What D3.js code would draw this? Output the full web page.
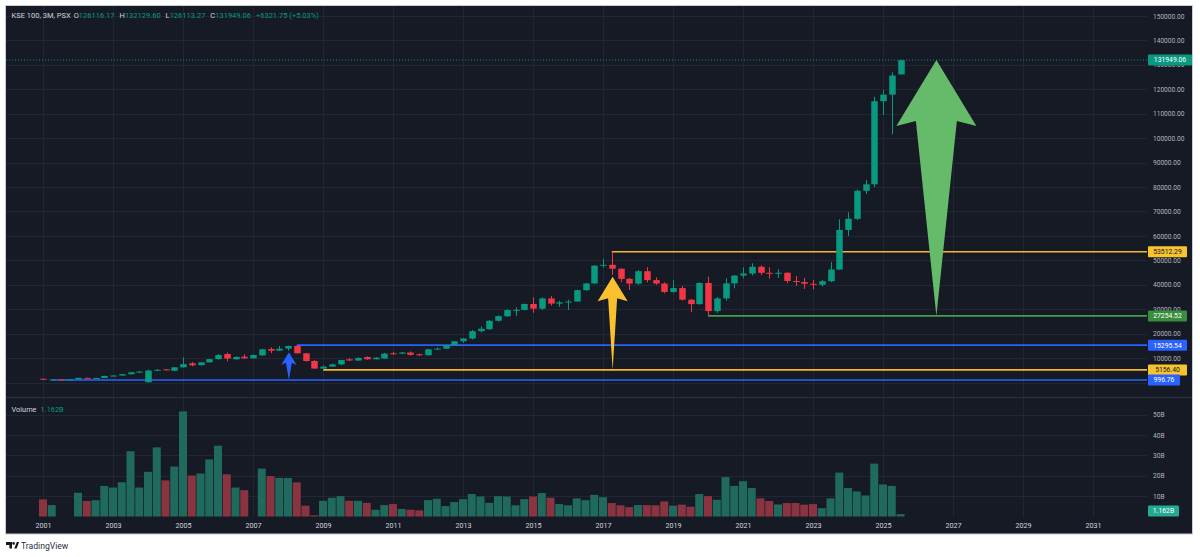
<!DOCTYPE html>
<html>
<head>
<meta charset="utf-8">
<style>
  body { margin: 0; background: #ffffff; }
  svg text { font-family: Roboto, "Noto Sans", sans-serif; }
</style>
</head>
<body>
<script src="https://cdn.jsdelivr.net/npm/d3@7"></script>
<script>
// quarterly bars, 2001 Q1 .. 2025 Q3
var opens = [
  1520, 1120, 1250, 1050,   1273, 1900, 1600, 1850,   2700, 2850, 3400, 4150,
  100, 4900, 5380, 4800,    6218, 7850, 7100, 8250,   9557, 11660, 9500, 10570,
  9900, 11100, 13700, 13030, 13900, 14950, 11950, 8800, 5700, 6500, 7400, 9500,
  9000, 10440, 9500, 9800,  11940, 11800, 12280, 11560, 11150, 13590, 13850, 15230,
  16900, 18000, 21000, 21800, 25260, 27100, 29650, 29700, 32130, 30230, 34400, 32290,
  32820, 33140, 37780, 40540, 47810, 48160, 46570, 42410, 40470, 45560, 41910, 40500,
  37070, 38650, 33900, 32080, 40740, 29230, 34420, 40570, 43760, 44590, 47360, 44900,
  44600, 44930, 41540, 41130, 40420, 40000, 41450, 46230, 62450, 67000, 78450, 81110,
  115130, 117810, 126116.17
];
var highs = [
  1600, 1380, 1300, 1400,   1950, 1950, 1900, 2750,   3000, 3500, 4300, 4700,
  5300, 5500, 5500, 6300,   10303, 8400, 8400, 9700,  11600, 12274, 10700, 11500,
  11500, 13800, 14400, 14900, 15100, 15295.54, 12100, 9200, 7000, 7800, 9300, 10000,
  10300, 10700, 10400, 12100, 12500, 12500, 12700, 11800, 13800, 14300, 15500, 17000,
  18200, 21500, 23000, 25600, 27500, 30000, 30780, 32300, 34870, 34800, 35400, 33500,
  33900, 38000, 40800, 48000, 50700, 53512.29, 46700, 42800, 46000, 47150, 43000, 41000,
  42030, 39500, 34200, 41000, 43300, 35000, 42650, 44000, 47150, 48790, 48000, 47150,
  46330, 45000, 43590, 42800, 41950, 42000, 49320, 66800, 69660, 79000, 82880, 116990,
  119700, 126970, 132129.60
];
var lows = [
  1250, 996.76, 1000, 1030, 1230, 1500, 1550, 1800,   2500, 2800, 3300, 3900,
  0, 4700, 4900, 4700,      6100, 6650, 7000, 8100,   9400, 8700, 9300, 9600,
  9800, 10900, 12000, 12900, 13000, 11800, 8600, 5650, 5156.40, 6400, 7100, 8900,
  8800, 9300, 9400, 9700,   11300, 11700, 11000, 10800, 11100, 13300, 13700, 15000,
  16200, 17600, 20500, 21500, 24900, 26900, 27220, 29500, 28570, 29700, 31500, 31000,
  29670, 33000, 37500, 40300, 47000, 44000, 41000, 37860, 40000, 41000, 40000, 36500,
  36700, 33500, 28765, 31800, 27254.52, 28500, 33500, 38550, 42650, 43800, 44000, 42490,
  42770, 40700, 39500, 38300, 38150, 39300, 41000, 46000, 60000, 66500, 77150, 80000,
  109500, 101600, 126113.27
];
var closes = [
  1300, 1250, 1020, 1273,   1900, 1600, 1850, 2700,   2850, 3400, 4150, 4472,
  4900, 5180, 5050, 6218,   7500, 7030, 8250, 9557,   11250, 9800, 10440, 9900,
  11250, 13570, 13030, 13850, 14950, 11950, 8800, 5700, 6500, 7400, 9200, 9000,
  10030, 9500, 10170, 11800, 11600, 12280, 11300, 11150, 13590, 13850, 15230, 16900,
  18040, 21000, 22000, 25260, 27160, 29650, 29730, 32130, 30230, 34400, 32290, 32820,
  33140, 37780, 40540, 47810, 48160, 46570, 42410, 40470, 45560, 41910, 40500, 37070,
  38650, 33900, 32080, 40740, 29230, 34420, 40570, 43760, 44590, 47360, 44900, 44600,
  44930, 41540, 41130, 40420, 40000, 41450, 46230, 62450, 67000, 78450, 81110, 115130,
  117810, 125630, 131949.06
];
// volume in billions (null = no volume printed)
var volumes = [
  8.4, 5.6, null, null,  11.6, 7.6, 8.0, 15.0,  14.2, 16.8, 32.0, 14.2,
  21.9, 33.9, 17.7, 24.5, 51.5, 20.1, 21.1, 28.0, 34.7, 20.7, 14.2, 12.9,
  null, 23.5, 19.8, 18.9, 18.9, 16.7, 5.3, 0.6,  7.7, 9.2, 10.0, 7.7,
  7.7, 6.7, 3.3, 5.6,    6.1, 3.7, 3.3, 3.0,    8.0, 8.7, 5.1, 7.1,
  8.5, 11.0, 9.8, 6.7,   10.0, 9.8, 5.5, 8.5,   9.8, 11.5, 9.2, 6.1,
  5.5, 8.9, 8.0, 10.6,   9.5, 6.6, 5.5, 4.6,    5.6, 5.6, 5.5, 7.4,
  5.3, 5.8, 4.8, 11.0,   10.0, 8.2, 19.3, 15.0, 17.3, 14.0, 8.9, 7.6,
  5.9, 6.6, 6.6, 5.8,    6.1, 4.1, 8.9, 21.5,   14.0, 12.3, 10.3, 25.9,
  15.7, 15.0, 1.162
];
var yearLabels = [2001, 2003, 2005, 2007, 2009, 2011, 2013, 2015, 2017, 2019, 2021, 2023, 2025, 2027, 2029, 2031];
var priceTicks = [10000, 20000, 30000, 40000, 50000, 60000, 70000, 80000, 90000, 100000, 110000, 120000, 130000, 140000, 150000];
var volumeTicks = [10, 20, 30, 40, 50];

// horizontal levels drawn on the chart, with the bar they start from
var levelPrices = [53512.29, 27254.52, 15295.54, 5156.40, 996.76];
var levelStartBars = [65, 76, 29, 32, 1];

// arrows: bar position, tip price, foot price
var arrowBars = [28.1, 65.1, 102.1];
var arrowTips = [12370, 43300, 131949.06];
var arrowFeet = [996.76, 5156.40, 27254.52];

var header = { name: 'KSE 100, 3M, PSX', o: '126116.17', h: '132129.60', l: '126113.27', c: '131949.06', chg: '+6321.75 (+5.03%)' };

var width = 1200, height = 557;
var up = '#089981', down = '#f23645';
var bg = '#161a25', grid = '#222632', axisText = '#b2b5be';

var svg = d3.select('body').append('svg')
  .attr('width', width).attr('height', height);

// panel frame
svg.append('rect').attr('x', 5.5).attr('y', 5.5).attr('width', 1187).attr('height', 528.5)
  .attr('fill', bg).attr('stroke', '#c9ccd3').attr('stroke-width', 1);

var plotRight = 1147;
var x = d3.scaleLinear().domain([0, 120]).range([43, 1093]);
var y = d3.scaleLinear().domain([0, 150000]).range([382.5, 16]);
var yv = d3.scaleLinear().domain([0, 50]).range([516.5, 414.5]);
var yearIndex = function (yr) { return (yr - 2001) * 4; };

// grid
var g = svg.append('g');
g.selectAll('.hg').data([0].concat(priceTicks)).enter().append('line')
  .attr('x1', 6).attr('x2', plotRight).attr('y1', function (d) { return Math.round(y(d)) + 0.5; })
  .attr('y2', function (d) { return Math.round(y(d)) + 0.5; }).attr('stroke', grid);
g.selectAll('.vg').data(volumeTicks).enter().append('line')
  .attr('x1', 6).attr('x2', plotRight).attr('y1', function (d) { return Math.round(yv(d)) + 0.5; })
  .attr('y2', function (d) { return Math.round(yv(d)) + 0.5; }).attr('stroke', grid);
g.selectAll('.yg').data(yearLabels).enter().append('line')
  .attr('x1', function (d) { return Math.round(x(yearIndex(d))) + 0.5; })
  .attr('x2', function (d) { return Math.round(x(yearIndex(d))) + 0.5; })
  .attr('y1', 6).attr('y2', 517).attr('stroke', grid);

// pane separator
svg.append('line').attr('x1', 6).attr('x2', 1192).attr('y1', 397.5).attr('y2', 397.5)
  .attr('stroke', '#2a2e39').attr('stroke-width', 1.5);

// price axis labels
var pa = svg.append('g').attr('transform', 'translate(' + plotRight + ',0)')
  .call(d3.axisRight(y).tickValues(priceTicks).tickSize(0).tickPadding(6)
    .tickFormat(function (d) { return d.toFixed(2); }));
pa.select('.domain').remove();
pa.selectAll('text').attr('fill', axisText).style('font-size', '6.6px');

var va = svg.append('g').attr('transform', 'translate(' + plotRight + ',0)')
  .call(d3.axisRight(yv).tickValues(volumeTicks).tickSize(0).tickPadding(6)
    .tickFormat(function (d) { return d + 'B'; }));
va.select('.domain').remove();
va.selectAll('text').attr('fill', axisText).style('font-size', '6.6px');

var ta = svg.append('g').attr('transform', 'translate(0,517)')
  .call(d3.axisBottom(x).tickValues(yearLabels.map(yearIndex)).tickSize(0).tickPadding(6)
    .tickFormat(function (i) { return 2001 + i / 4; }));
ta.select('.domain').remove();
ta.selectAll('text').attr('fill', '#d1d4dc').style('font-size', '7.2px');

// volume bars
var bars = d3.range(closes.length);
var isUp = function (i) { return closes[i] >= opens[i]; };
svg.append('g').selectAll('rect').data(bars.filter(function (i) { return volumes[i] != null; }))
  .enter().append('rect')
  .attr('x', function (i) { return x(i) - 4; })
  .attr('width', 8)
  .attr('y', function (i) { return yv(volumes[i]); })
  .attr('height', function (i) { return yv(0) - yv(volumes[i]); })
  .attr('fill', function (i) { return isUp(i) ? '#1f6a5c' : '#8a3441'; });

// horizontal levels (under candles)
var levelColors = ['#f4b92a', '#43a047', '#2962ff', '#f4b92a', '#2962ff'];
svg.append('g').selectAll('line').data(levelPrices).enter().append('line')
  .attr('x1', function (d, i) { return x(levelStartBars[i]); })
  .attr('x2', plotRight)
  .attr('y1', function (d) { return y(d); }).attr('y2', function (d) { return y(d); })
  .attr('stroke', function (d, i) { return levelColors[i]; })
  .attr('stroke-width', 1.6);

// candles
var cg = svg.append('g');
cg.selectAll('line').data(bars).enter().append('line')
  .attr('x1', function (i) { return Math.round(x(i)) + 0.5; })
  .attr('x2', function (i) { return Math.round(x(i)) + 0.5; })
  .attr('y1', function (i) { return y(highs[i]); })
  .attr('y2', function (i) { return y(lows[i]); })
  .attr('stroke', function (i) { return isUp(i) ? up : down; });
cg.selectAll('rect').data(bars).enter().append('rect')
  .attr('x', function (i) { return Math.round(x(i)) + 0.5 - 3.25; })
  .attr('width', 6.5)
  .attr('y', function (i) { return y(Math.max(opens[i], closes[i])); })
  .attr('height', function (i) { return Math.max(1, Math.abs(y(opens[i]) - y(closes[i]))); })
  .attr('fill', function (i) { return isUp(i) ? up : down; });

// current price line
var last = closes[closes.length - 1];
svg.append('line').attr('x1', 6).attr('x2', plotRight).attr('y1', y(last)).attr('y2', y(last))
  .attr('stroke', up).attr('stroke-dasharray', '1,2');

// arrows
var arrowColors = ['#2962ff', '#fbc02d', '#66bb6a'];
var arrowSizes = [
  { hw: 7.7, hh: 12.7, n: 2.3, sw: 3 },
  { hw: 15, hh: 24.5, n: 3, sw: 4.5 },
  { hw: 40, hh: 66, n: 5, sw: 20.5 }
];
svg.append('g').selectAll('path').data(arrowBars).enter().append('path')
  .attr('d', function (b, i) {
    var s = arrowSizes[i], cx = x(b), ty = y(arrowTips[i]), by = y(arrowFeet[i]);
    return d3.line()([
      [cx, ty], [cx + s.hw, ty + s.hh], [cx + s.sw, ty + s.hh - s.n], [cx, by],
      [cx - s.sw, ty + s.hh - s.n], [cx - s.hw, ty + s.hh]
    ]) + 'Z';
  })
  .attr('fill', function (b, i) { return arrowColors[i]; });

// price tags on the axis
function tag(yPos, text, fill, color, w) {
  var t = svg.append('g');
  t.append('rect').attr('x', plotRight + 1).attr('y', yPos - 5.5).attr('width', w).attr('height', 11)
    .attr('rx', 1).attr('fill', fill);
  t.append('text').attr('x', plotRight + 1 + w / 2).attr('y', yPos).attr('dy', '0.35em')
    .attr('text-anchor', 'middle').attr('fill', color)
    .style('font-size', '6.8px').text(text);
}
var tagFills = ['#f7c32e', '#388e3c', '#2962ff', '#f7c32e', '#2962ff'];
var tagText = ['#131722', '#ffffff', '#ffffff', '#131722', '#ffffff'];
levelPrices.forEach(function (p, i) {
  var label = p.toFixed(2);
  tag(y(p), label, tagFills[i], tagText[i], label.length > 6 ? 39 : 32);
});
tag(y(last), last.toFixed(2), up, '#ffffff', 44);
tag(yv(0) - 5.5, volumes[volumes.length - 1].toFixed(3) + 'B', '#22ab94', '#ffffff', 31);

// header legend
var ht = svg.append('text').attr('x', 11.5).attr('y', 18).style('font-size', '7.5px').attr('fill', '#d1d4dc');
ht.append('tspan').text(header.name);
[['O', header.o], ['H', header.h], ['L', header.l], ['C', header.c]].forEach(function (p, i) {
  ht.append('tspan').attr('dx', i === 0 ? 3 : 5).text(p[0]);
  ht.append('tspan').attr('fill', up).text(p[1]);
});
ht.append('tspan').attr('dx', 5).attr('fill', up).text(header.chg);

var vt = svg.append('text').attr('x', 11.5).attr('y', 411.5).style('font-size', '7.4px').attr('fill', '#d1d4dc');
vt.append('tspan').text('Volume');
vt.append('tspan').attr('dx', 4).attr('fill', up).text(volumes[volumes.length - 1].toFixed(3) + 'B');

// TradingView mark
var logo = svg.append('g').attr('fill', '#131722');
logo.append('path').attr('d', 'M6,542h6v6.5h-2.6v-3.6h-3.4z');
logo.append('circle').attr('cx', 13.6).attr('cy', 543.4).attr('r', 1.3);
logo.append('path').attr('d', 'M14.3,548.5l2.5,-6.5h2.3l-2.5,6.5z');
svg.append('text').attr('x', 21).attr('y', 548.5).style('font-size', '8.6px')
  .attr('fill', '#2a2e39').text('TradingView');
</script>
</body>
</html>
